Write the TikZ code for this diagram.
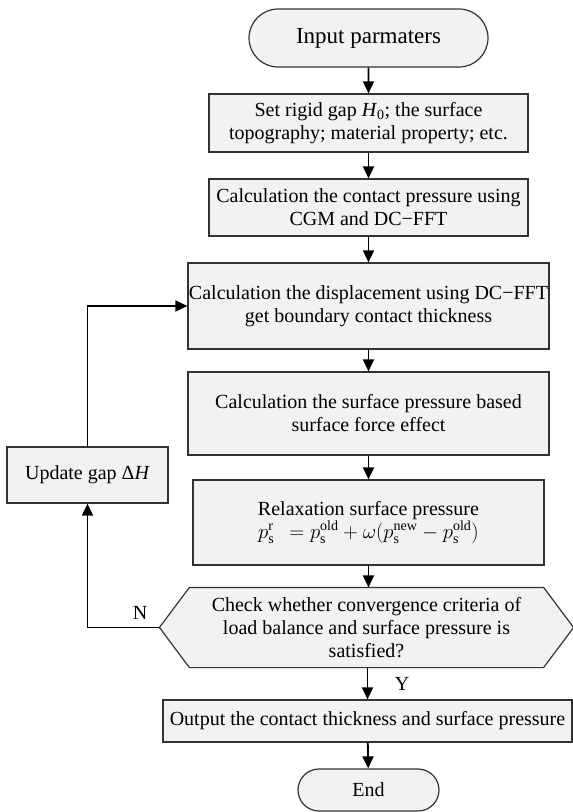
\documentclass[tikz,border=0pt]{standalone}
\usepackage{fontspec}
\setmainfont{Liberation Serif}
\usetikzlibrary{shapes.misc,arrows.meta,backgrounds}
\definecolor{boxgray}{HTML}{F2F2F2}
\tikzset{
	box/.style={draw=black!80,fill=boxgray,line width=1.2pt,align=center,inner sep=0pt,font=\fontsize{20}{23}\selectfont},
	term/.style={box,rounded rectangle},
	arr/.style={line width=1.8pt,-{Triangle[length=12pt,width=11pt]}}
}
\begin{document}
\begin{tikzpicture}[x=1pt,y=1pt]
				\useasboundingbox (0,0) rectangle (573,-812);
				\node[term,minimum width=239pt,minimum height=58pt,font=\fontsize{23}{26}\selectfont] (start) at (368.5,-38) {Input parmaters};
				\node[box,minimum width=319pt,minimum height=58pt] (setgap) at (368.5,-123) {Set rigid gap \textit{H}\textsubscript{0}; the surface\\topography; material property; etc.};
				\node[box,minimum width=319pt,minimum height=57pt] (cpress) at (368.5,-207.5) {Calculation the contact pressure using\\CGM and DC−FFT};
				\node[box,minimum width=361pt,minimum height=86pt] (disp) at (368.5,-306) {Calculation the displacement using DC−FFT\\get boundary contact thickness};
				\node[box,minimum width=361pt,minimum height=83pt] (spress) at (368.5,-413.5) {Calculation the surface pressure based\\surface force effect};
				\node[box,minimum width=351pt,minimum height=85pt] (relax) at (368.5,-522.5) {Relaxation surface pressure\\$p_{\mathrm{s}}^{\mathrm{r}}\;\,=p_{\mathrm{s}}^{\mathrm{old}}+\omega(p_{\mathrm{s}}^{\mathrm{new}}-p_{\mathrm{s}}^{\mathrm{old}})$};
				\node[box,draw=none,fill=none,minimum width=413pt,minimum height=79pt] (check) at (366.5,-627.5) {Check whether convergence criteria of\\load balance and surface pressure is\\satisfied?};
				\begin{scope}[on background layer]
					\draw[draw=black!80,fill=boxgray,line width=1.2pt] (check.west) -- ([xshift=30pt]check.north west) -- ([xshift=-30pt]check.north east) -- (check.east) -- ([xshift=-30pt]check.south east) -- ([xshift=30pt]check.south west) -- cycle;
				\end{scope}
				\node[box,minimum width=409pt,minimum height=42pt] (output) at (367.5,-721) {Output the contact thickness and surface pressure};
				\node[term,minimum width=141pt,minimum height=42pt] (stop) at (368.5,-790) {End};
				\node[box,minimum width=161pt,minimum height=56pt] (update) at (87.5,-475) {Update gap Δ\textit{H}};
				\draw[arr] (start) -- (setgap);
				\draw[arr] (setgap) -- (cpress);
				\draw[arr] (cpress) -- (disp);
				\draw[arr] (disp) -- (spress);
				\draw[arr] (spress) -- (relax);
				\draw[arr] (relax.south) -- (relax.south |- check.north);
				\draw[arr] (check.south -| output.north) -- (output);
				\draw[arr] (output) -- (stop);
				\draw[arr] (check.west) -| (update.south);
				\draw[arr] (update.north) |- (disp.west);
				\node[font=\fontsize{20}{23}\selectfont] (nlabel) at (140,-613) {N};
				\node[font=\fontsize{20}{23}\selectfont] (ylabel) at (402,-684) {Y};
			\end{tikzpicture}
\end{document}
